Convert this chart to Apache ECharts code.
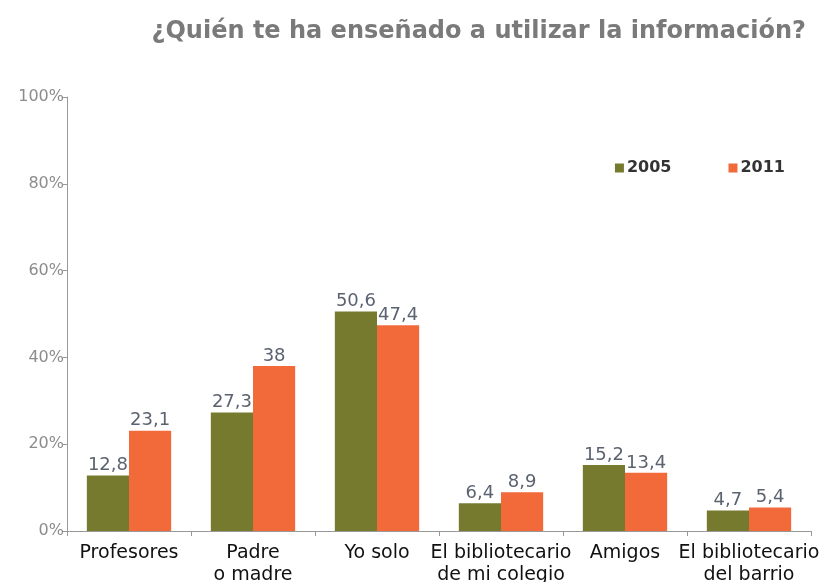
<!DOCTYPE html>
<html>
<head>
<meta charset="utf-8">
<script src="https://cdn.jsdelivr.net/npm/echarts@6/dist/echarts.min.js"></script>
<style>
  html, body { margin: 0; padding: 0; background: #fff; }
  #main { width: 819px; height: 582px; }
</style>
</head>
<body>
<div id="main"></div>
<script>
  // datos
  var categorias = ['Profesores', 'Padre\no madre', 'Yo solo', 'El bibliotecario\nde mi colegio', 'Amigos', 'El bibliotecario\ndel barrio']
  var datos2005 = [12.8, 27.3, 50.6, 6.4, 15.2, 4.7]
  var datos2011 = [23.1, 38, 47.4, 8.9, 13.4, 5.4]

  var myChart = echarts.init(document.getElementById('main'))

  var etiqueta = {
    show: true,
    position: 'top',
    distance: 1,
    color: '#5b6270',
    fontFamily: 'DejaVu Sans',
    fontSize: 18,
    formatter: function (p) {
      return String(p.value).replace('.', ',')
    },
  }

  var option = {
    animation: false,
    title: {
      text: '¿Quién te ha enseñado a utilizar la información?',
      right: 8,
      top: 15,
      textStyle: {
        color: '#7a7a7a',
        fontFamily: 'DejaVu Sans',
        fontWeight: 'bold',
        fontSize: 24,
      },
    },
    legend: {
      data: ['2005', '2011'],
      right: 29,
      top: 155,
      itemWidth: 9,
      itemHeight: 9,
      itemGap: 57,
      icon: 'rect',
      textStyle: {
        color: '#333',
        fontWeight: 'bold',
        fontFamily: 'DejaVu Sans',
        fontSize: 16,
        padding: [0, 0, 0, -2],
      },
    },
    grid: {
      left: 67,
      right: 8,
      top: 97,
      bottom: 51,
      outerBoundsMode: 'none',
    },
    xAxis: {
      type: 'category',
      data: categorias,
      axisLine: { lineStyle: { color: '#999' } },
      axisTick: { show: true, length: 5, lineStyle: { color: '#999' } },
      axisLabel: {
        color: '#111',
        fontFamily: 'DejaVu Sans',
        fontSize: 19,
        lineHeight: 22,
        margin: 11,
        interval: 0,
      },
    },
    yAxis: {
      type: 'value',
      min: 0,
      max: 100,
      interval: 20,
      splitLine: { show: false },
      axisLine: { show: true, lineStyle: { color: '#999' } },
      axisTick: { show: true, length: 4, lineStyle: { color: '#999' } },
      axisLabel: {
        color: '#8c8c8c',
        fontFamily: 'DejaVu Sans',
        fontSize: 16,
        margin: 3,
        formatter: '{value}%',
      },
    },
    series: [
      {
        name: '2005',
        type: 'bar',
        data: datos2005,
        barGap: '0%',
        barCategoryGap: '32%',
        itemStyle: { color: '#767a2f' },
        label: etiqueta,
      },
      {
        name: '2011',
        type: 'bar',
        data: datos2011,
        itemStyle: { color: '#f26a3a' },
        label: etiqueta,
      },
    ],
  }

  myChart.setOption(option)
</script>
</body>
</html>
